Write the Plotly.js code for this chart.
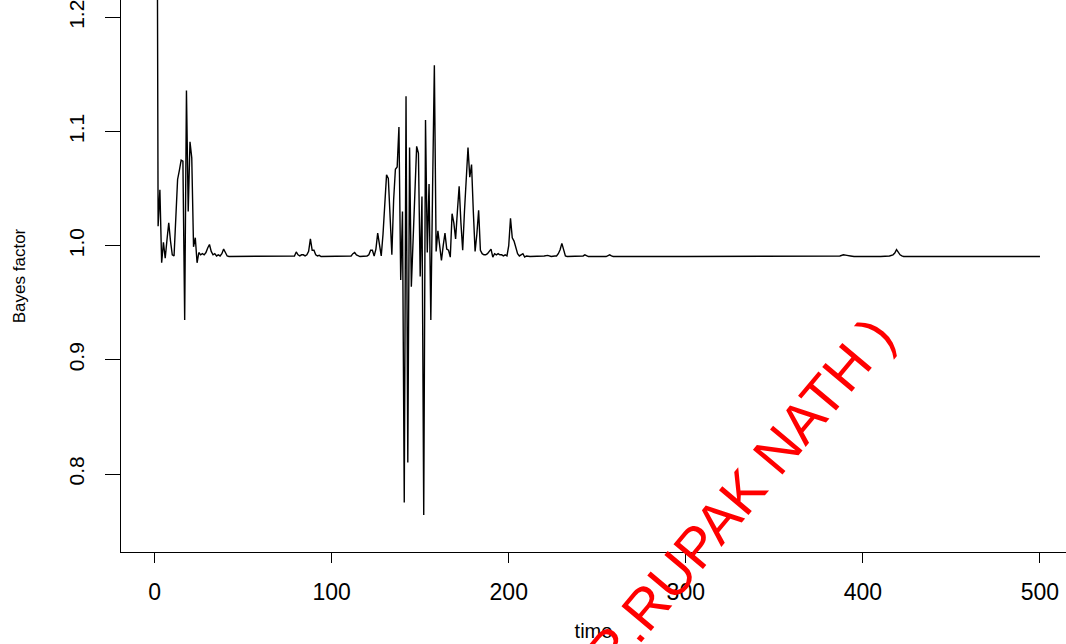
<!DOCTYPE html>
<html>
<head>
<meta charset="utf-8">
<script src="https://cdn.plot.ly/plotly-3.0.1.min.js"></script>
<style>html,body{margin:0;padding:0;background:#fff;}#chart{width:1066px;height:644px;}</style>
</head>
<body>
<div id="chart"></div>
<script>
// time index (sparse where the series is flat)
const time = [
  1,2,3,4,5,6,7,8,9,10,11,12,13,14,15,16,17,18,19,20,21,22,23,24,25,26,27,28,29,30,
  31,32,33,34,35,36,37,38,39,40,41,42,50,60,70,78,79,80,81,82,83,84,85,86,87,88,89,90,
  91,92,93,94,100,110,111,112,113,114,115,116,120,121,122,123,124,125,126,127,128,129,130,
  131,132,133,134,135,136,137,138,139,140,141,142,143,144,145,146,147,148,149,150,
  151,152,153,154,155,156,157,158,159,160,161,162,163,164,165,166,167,168,169,170,
  171,172,173,174,175,176,177,178,179,180,181,182,183,184,185,186,187,188,189,190,
  191,192,193,194,195,196,197,198,199,200,201,202,203,204,205,206,207,208,209,210,
  212,215,220,222,224,226,227,228,229,230,231,232,233,240,242,243,244,245,255,256,257,258,259,
  300,350,385,387,389,390,391,393,395,410,415,417,418,419,420,421,422,423,450,500
];
// Bayes factor values
const bayesFactor = [
  1.57,1.017,1.049,0.985,1.003,0.989,1.005,1.020,1.004,0.992,0.991,1.030,1.058,1.066,1.075,1.074,0.935,1.136,1.030,1.091,
  1.077,0.999,1.007,0.985,0.994,0.992,0.993,0.992,0.994,0.998,
  1.001,0.995,0.992,0.993,0.991,0.992,0.991,0.993,0.997,0.994,0.991,0.9905,0.9905,0.9905,0.9905,0.9905,0.991,0.9945,0.992,0.991,0.992,0.992,0.991,0.992,0.995,1.006,0.996,0.996,
  0.992,0.991,0.9915,0.9905,0.9905,0.9905,0.991,0.993,0.994,0.992,0.991,0.9905,0.991,0.992,0.996,0.996,0.991,0.997,1.011,1.000,0.991,1.010,1.040,
  1.062,1.059,1.020,0.992,1.040,1.067,1.069,1.104,0.970,1.030,0.775,1.131,0.810,1.086,0.964,1.010,1.055,1.087,1.081,0.973,
  1.043,0.764,1.110,0.994,1.054,0.935,1.050,1.158,0.995,1.013,1.000,0.987,1.000,1.011,0.997,0.996,0.990,1.028,1.020,1.006,
  1.030,1.052,1.020,0.996,1.030,1.060,1.086,1.060,1.071,1.030,0.995,1.010,1.031,0.996,0.993,0.992,0.992,0.993,0.995,0.997,
  0.990,0.993,0.992,0.993,0.992,0.992,0.991,0.992,0.991,1.000,1.024,1.007,1.004,0.999,0.993,0.991,0.992,0.993,0.990,0.991,
  0.9905,0.9905,0.991,0.9915,0.9905,0.991,0.991,0.993,0.9965,1.002,0.995,0.991,0.9905,0.9905,0.991,0.992,0.991,0.9905,0.9905,0.991,0.992,0.991,0.9905,
  0.9905,0.9905,0.9905,0.991,0.992,0.992,0.9915,0.991,0.9905,0.9905,0.991,0.992,0.9935,0.9965,0.994,0.992,0.991,0.9905,0.9905,0.9905
];
const xTickVals = [0,100,200,300,400,500];
const xTickText = ['0','100','200','300','400','500'];
const yTickVals = [0.8,0.9,1.0,1.1,1.2];
const yTickText = ['0.8','0.9','1.0','1.1','1.2'];

const trace = {
  x: time, y: bayesFactor, type: 'scatter', mode: 'lines',
  line: {color: '#000000', width: 1.4}, hoverinfo: 'skip'
};

const layout = {
  width: 1066, height: 644,
  margin: {l: 121, r: 0, t: 0, b: 92, pad: 0},
  paper_bgcolor: '#ffffff', plot_bgcolor: '#ffffff',
  showlegend: false,
  font: {family: 'Liberation Sans, Arial, sans-serif', color: '#000'},
  xaxis: {
    range: [-18.96, 514.7], showgrid: false, zeroline: false,
    showline: true, linecolor: '#000', linewidth: 1, mirror: false,
    ticks: 'outside', ticklen: 10, tickwidth: 1, tickcolor: '#000',
    tickvals: xTickVals, ticktext: xTickText,
    tickfont: {size: 23, family: 'Liberation Sans, Arial, sans-serif', color: '#000'},
    ticklabelstandoff: 9, ticklabeloverflow: 'allow',
    title: {text: 'time', font: {size: 20, family: 'Liberation Sans, Arial, sans-serif', color: '#000'}, standoff: 20}
  },
  yaxis: {
    range: [0.7317, 1.2152], showgrid: false, zeroline: false,
    showline: true, linecolor: '#000', linewidth: 1,
    ticks: 'outside', ticklen: 15, tickwidth: 1, tickcolor: '#000',
    tickvals: yTickVals, ticktext: yTickText, tickangle: -90,
    tickfont: {size: 21, family: 'Liberation Sans, Arial, sans-serif', color: '#000'},
    ticklabelstandoff: 13, ticklabeloverflow: 'allow',
    title: {text: 'Bayes factor', font: {size: 17, family: 'Liberation Sans, Arial, sans-serif', color: '#000'}, standoff: 34}
  },
  annotations: [{
    text: '( DR.RUPAK NATH )', xref: 'paper', yref: 'paper',
    x: 0.6295, y: 0.0508, xanchor: 'center', yanchor: 'middle',
    textangle: -50, showarrow: false,
    font: {size: 56, color: '#ff0000', family: 'Liberation Sans, Arial, sans-serif'}
  }]
};

Plotly.newPlot('chart', [trace], layout, {staticPlot: true, displayModeBar: false});
</script>
</body>
</html>
